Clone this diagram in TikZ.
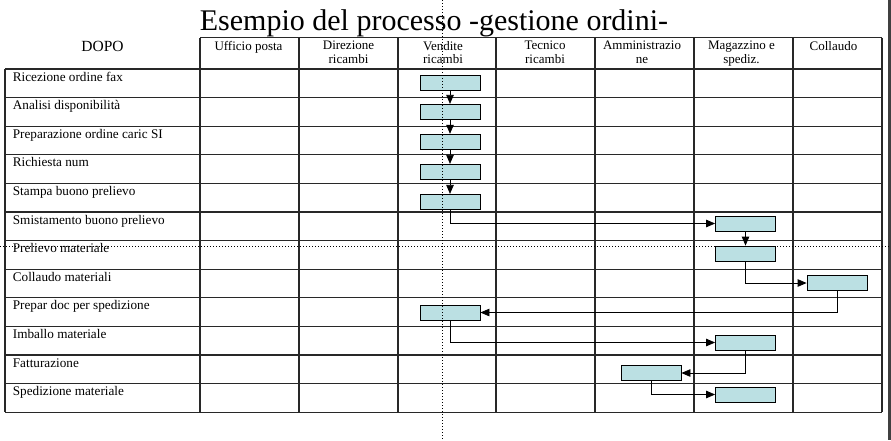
\documentclass[tikz,border=0pt]{standalone}
\usepackage{fontspec}
\setmainfont{Liberation Serif}
\usetikzlibrary{arrows.meta}
\definecolor{boxcyan}{RGB}{187,224,227}
\definecolor{gridgray}{RGB}{40,40,40}

\begin{document}
\begin{tikzpicture}[x=1pt,y=-1pt,
    task/.style={rectangle,draw,fill=boxcyan,line width=0.8pt,minimum width=60pt,minimum height=15pt,inner sep=0pt},
    flow/.style={-{Triangle[width=7.5pt,length=9pt]},line width=0.8pt},
    rowlabel/.style={anchor=base west,inner sep=0pt,font=\fontsize{13.2}{14}\selectfont},
    lanelabel/.style={anchor=north,inner sep=0pt,align=center,font=\fontsize{13}{13.5}\selectfont},
    gridline/.style={line width=1.2pt,gridgray},
    guide/.style={line width=0.8pt,dash pattern=on 0.8pt off 2.2pt}]
    \useasboundingbox (0,0) rectangle (891,440);

    % table
    \draw[gridline] (200,37.7) -- (882,37.7);
    \foreach \k in {0,...,12}
        \draw[gridline] (5,{69+28.6*\k}) -- (882,{69+28.6*\k});
    \draw[gridline] (5,69) -- (5,412.2);
    \foreach \x in {200,299,398,496,595,694,793,882}
        \draw[gridline] (\x,37.7) -- (\x,412.2);
    \fill[black!75] (888,0) rectangle (891,440);

    % titles
    \node[anchor=base,inner sep=0pt,font=\fontsize{30}{31}\selectfont] (title) at (434,30) {Esempio del processo -gestione ordini-};
    \node[anchor=base,inner sep=0pt,font=\fontsize{15.5}{16}\selectfont] (dopo) at (102.5,51.7) {DOPO};
    \node[lanelabel] (uff) at (248.5,41) {Ufficio posta};
    \node[lanelabel] (dir) at (348.5,41) {Direzione\\ricambi};
    \node[lanelabel] (ven) at (443,41) {Vendite\\ricambi};
    \node[lanelabel] (tec) at (545,41) {Tecnico\\ricambi};
    \node[lanelabel] (amm) at (642,41) {Amministrazio\\ne};
    \node[lanelabel] (mag) at (741.5,41) {Magazzino e\\spediz.};
    \node[lanelabel] (col) at (833.5,41) {Collaudo};

    % activities
    \node[rowlabel] (r1) at (12.7,81) {Ricezione ordine fax};
    \node[rowlabel] (r2) at (12.7,109.6) {Analisi disponibilità};
    \node[rowlabel] (r3) at (12.7,138.2) {Preparazione ordine caric SI};
    \node[rowlabel] (r4) at (12.7,166.8) {Richiesta num};
    \node[rowlabel] (r5) at (12.7,195.4) {Stampa buono prelievo};
    \node[rowlabel] (r6) at (12.7,224) {Smistamento buono prelievo};
    \node[rowlabel] (r7) at (12.7,252.6) {Prelievo materiale};
    \node[rowlabel] (r8) at (12.7,281.2) {Collaudo materiali};
    \node[rowlabel] (r9) at (12.7,309.8) {Prepar doc per spedizione};
    \node[rowlabel] (r10) at (12.7,338.4) {Imballo materiale};
    \node[rowlabel] (r11) at (12.7,367) {Fatturazione};
    \node[rowlabel] (r12) at (12.7,395.6) {Spedizione materiale};

    % boxes
    \node[task] (v1) at (450,82.7) {};
    \node[task] (v2) at (450,111.8) {};
    \node[task] (v3) at (450,141.7) {};
    \node[task] (v4) at (450,171.8) {};
    \node[task] (v5) at (450,201.8) {};
    \node[task] (m6) at (745.5,223.5) {};
    \node[task] (m7) at (745.5,253.5) {};
    \node[task] (c8) at (837,283) {};
    \node[task] (v9) at (450,312.5) {};
    \node[task] (m10) at (745.5,342.5) {};
    \node[task] (a11) at (651,373) {};
    \node[task] (m12) at (745.5,394.5) {};

    % flow
    \draw[flow] (v1.south) -- (v2.north);
    \draw[flow] (v2.south) -- (v3.north);
    \draw[flow] (v3.south) -- (v4.north);
    \draw[flow] (v4.south) -- (v5.north);
    \draw[flow] (v5.south) |- (m6.west);
    \draw[flow] (m6.south) -- (m7.north);
    \draw[flow] (m7.south) |- (c8.west);
    \draw[flow] (c8.south) |- (v9.east);
    \draw[flow] (v9.south) |- (m10.west);
    \draw[flow] (m10.south) |- (a11.east);
    \draw[flow] (a11.south) |- (m12.west);

    % guides
    \draw[guide] (442,0) -- (442,440);
    \draw[guide] (0,246) -- (891,246);
\end{tikzpicture}
\end{document}
